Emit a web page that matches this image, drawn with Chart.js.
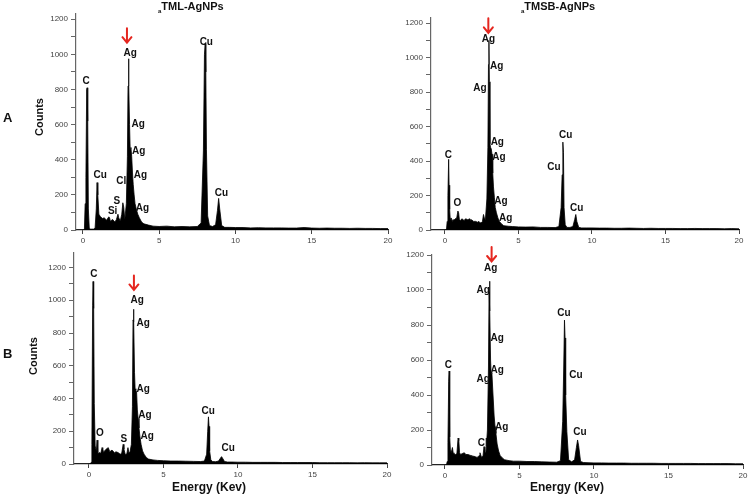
<!DOCTYPE html>
<html>
<head>
<meta charset="utf-8">
<script src="https://cdn.jsdelivr.net/npm/chart.js@4.4.1/dist/chart.umd.min.js"></script>
<style>
  body { margin: 0; background: #fff; font-family: Arial, "Liberation Sans", sans-serif; }
  #wrap { position: relative; width: 752px; height: 494px; overflow: hidden; }
  canvas { position: absolute; }
  .txt { position: absolute; font-weight: bold; color: #111; white-space: nowrap; }
</style>
</head>
<body>
<div id="wrap">
  <canvas id="c1" width="400" height="245" style="left:0;top:0"></canvas>
  <canvas id="c2" width="372" height="245" style="left:380px;top:0"></canvas>
  <canvas id="c3" width="400" height="249" style="left:0;top:245px"></canvas>
  <canvas id="c4" width="372" height="249" style="left:380px;top:245px"></canvas>

  <div class="txt" style="left:158px;top:0px;font-size:11px"><sub style="font-size:6px">a</sub>TML-AgNPs</div>
  <div class="txt" style="left:521px;top:0px;font-size:11px"><sub style="font-size:6px">a</sub>TMSB-AgNPs</div>
  <div class="txt" style="left:3px;top:110px;font-size:13px">A</div>
  <div class="txt" style="left:3px;top:346px;font-size:13px">B</div>
  <div class="txt" style="left:20px;top:111px;font-size:11px;transform:rotate(-90deg)">Counts</div>
  <div class="txt" style="left:14px;top:350px;font-size:11px;transform:rotate(-90deg)">Counts</div>
  <div class="txt" style="left:172px;top:480px;font-size:12px">Energy (Kev)</div>
  <div class="txt" style="left:530px;top:480px;font-size:12px">Energy (Kev)</div>
</div>
<script>
// energy axis (keV), shared by all four spectra
const energy = [
  0, 0.1, 0.15, 0.2, 0.25, 0.28, 0.32, 0.36, 0.42, 0.5,
  0.55, 0.6, 0.7, 0.8, 0.88, 0.93, 0.98, 1.05, 1.15, 1.3,
  1.4, 1.55, 1.7, 1.75, 1.8, 1.95, 2.1, 2.2, 2.3, 2.35,
  2.45, 2.55, 2.62, 2.68, 2.75, 2.85, 2.92, 2.96, 2.99, 3.02,
  3.06, 3.1, 3.15, 3.2, 3.25, 3.3, 3.36, 3.42, 3.5, 3.6,
  3.7, 3.85, 4.0, 4.3, 4.6, 5.0, 5.5, 6.0, 6.5, 7.0,
  7.5, 7.75, 7.9, 7.97, 8.02, 8.06, 8.1, 8.18, 8.3, 8.5,
  8.7, 8.82, 8.9, 8.97, 9.1, 9.3, 9.6, 10, 10.5, 11,
  11.5, 12, 12.5, 13, 13.5, 14, 14.5, 15, 15.5, 16,
  16.5, 17, 17.5, 18, 18.5, 19, 19.5, 20
]

const countsTmlA = [
  0, 0, 150, 300, 800, 810, 620, 120, 10, 5,
  5, 5, 5, 10, 120, 270, 200, 90, 75, 65,
  70, 55, 75, 70, 50, 60, 45, 60, 90, 70,
  50, 90, 155, 130, 60, 150, 420, 820, 975, 830,
  600, 460, 470, 420, 330, 260, 200, 150, 120, 90,
  70, 45, 35, 28, 22, 20, 22, 18, 20, 18,
  20, 40, 450, 1000, 1060, 900, 460, 80, 25, 20,
  30, 110, 180, 120, 25, 15, 15, 14, 14, 12,
  13, 12, 12, 12, 11, 11, 14, 11, 10, 11,
  10, 10, 9, 10, 9, 9, 8, 8
]
const countsTmsbA = [
  0, 0, 50, 200, 410, 260, 120, 60, 70, 50,
  60, 55, 65, 70, 110, 100, 60, 55, 65, 55,
  65, 60, 65, 55, 60, 50, 50, 45, 50, 45,
  40, 50, 90, 70, 60, 180, 480, 960, 1100, 860,
  500, 480, 470, 440, 330, 250, 190, 130, 100, 70,
  50, 35, 25, 22, 20, 18, 17, 18, 15, 15,
  14, 20, 130, 320, 510, 450, 130, 30, 15, 15,
  20, 60, 90, 50, 15, 12, 12, 12, 11, 11,
  10, 10, 11, 10, 9, 10, 9, 9, 9, 8,
  8, 9, 8, 8, 8, 7, 8, 7
]
const countsTmlB = [
  0, 0, 10, 120, 970, 1115, 950, 370, 110, 80,
  146, 60, 70, 65, 100, 95, 70, 80, 90, 100,
  75, 85, 70, 60, 75, 70, 60, 65, 120, 90,
  55, 65, 100, 70, 70, 120, 350, 880, 945, 870,
  560, 460, 450, 440, 330, 280, 220, 170, 120, 80,
  60, 40, 30, 25, 22, 20, 18, 18, 17, 16,
  15, 18, 60, 200, 288, 230, 80, 25, 15, 14,
  18, 35, 45, 35, 15, 12, 12, 11, 11, 10,
  10, 10, 10, 9, 9, 9, 9, 9, 8, 8,
  8, 8, 8, 7, 8, 7, 7, 7
]
const countsTmsbB = [
  0, 0, 20, 130, 476, 537, 160, 90, 70, 100,
  70, 65, 60, 65, 154, 140, 70, 60, 65, 70,
  60, 60, 55, 55, 50, 50, 45, 45, 55, 70,
  45, 50, 105, 80, 70, 200, 560, 990, 1050, 880,
  600, 520, 525, 440, 360, 280, 220, 180, 120, 80,
  55, 40, 30, 25, 22, 22, 20, 20, 18, 17,
  16, 25, 250, 560, 828, 726, 400, 190, 30, 18,
  30, 100, 143, 110, 20, 14, 13, 12, 12, 11,
  11, 11, 10, 10, 10, 10, 9, 9, 9, 9,
  9, 8, 8, 8, 8, 8, 7, 7
]

const xTicks = [0, 5, 10, 15, 20]
const yTicks = [0, 200, 400, 600, 800, 1000, 1200]

// peak labels: [element, keV, counts]
const peaksTmlA = [
  ['C', 0.22, 848], ['Ag', 3.1, 1008], ['Cu', 8.09, 1071], ['Ag', 3.62, 601],
  ['Ag', 3.66, 451], ['Cl', 2.52, 275], ['Ag', 3.77, 313], ['Cu', 1.14, 313],
  ['S', 2.22, 165], ['Si', 1.95, 104], ['Ag', 3.91, 123], ['Cu', 9.08, 209]
]
const peaksTmsbA = [
  ['Ag', 2.95, 1105], ['Ag', 3.52, 949], ['Ag', 2.38, 825], ['Ag', 3.56, 508],
  ['Ag', 3.67, 421], ['C', 0.23, 435], ['Cu', 8.21, 551], ['Cu', 7.41, 363],
  ['O', 0.84, 155], ['Ag', 3.81, 165], ['Ag', 4.13, 68], ['Cu', 8.96, 126]
]
const peaksTmlB = [
  ['C', 0.34, 1157], ['Ag', 3.24, 999], ['Ag', 3.64, 861], ['Ag', 3.64, 455],
  ['Ag', 3.76, 298], ['Ag', 3.91, 171], ['O', 0.74, 187], ['S', 2.35, 150],
  ['Cu', 8.0, 325], ['Cu', 9.35, 96]
]
const peaksTmsbB = [
  ['Ag', 3.07, 1124], ['Ag', 2.57, 1000], ['Ag', 3.51, 727], ['Ag', 3.51, 539],
  ['Ag', 2.57, 490], ['C', 0.22, 571], ['Cu', 7.99, 867], ['Cu', 8.79, 514],
  ['Cl', 2.53, 127], ['Ag', 3.8, 215], ['Cu', 9.06, 185]
]

const peakText = {
  id: 'peakText',
  afterDatasetsDraw(chart, args, opts) {
    const ctx = chart.ctx, x = chart.scales.x, y = chart.scales.y
    ctx.save()
    ctx.font = 'bold 10px Arial'
    ctx.fillStyle = '#111'
    ctx.textAlign = 'center'
    ctx.textBaseline = 'middle'
    opts.items.forEach(p => ctx.fillText(p[0], x.getPixelForValue(p[1]), y.getPixelForValue(p[2])))
    // red arrow pointing at the main Ag peak
    const ax = x.getPixelForValue(opts.arrow[0]), ay = y.getPixelForValue(opts.arrow[1])
    ctx.strokeStyle = '#e5261f'
    ctx.lineWidth = 2
    ctx.lineCap = 'round'
    ctx.beginPath()
    ctx.moveTo(ax, ay - 15)
    ctx.lineTo(ax, ay - 1)
    ctx.moveTo(ax - 4.5, ay - 6)
    ctx.lineTo(ax, ay - 0.5)
    ctx.lineTo(ax + 4.5, ay - 6)
    ctx.stroke()
    ctx.restore()
  }
}

function makeChart(id, counts, peaks, arrow, xMin, yMax, pad) {
  new Chart(document.getElementById(id), {
    type: 'line',
    data: {
      datasets: [{
        data: energy.map((e, i) => ({ x: e, y: counts[i] })),
        borderColor: '#000',
        backgroundColor: '#000',
        borderWidth: 0.8,
        fill: 'origin',
        pointRadius: 0,
        tension: 0
      }]
    },
    options: {
      responsive: false,
      animation: false,
      layout: { padding: pad },
      plugins: {
        legend: { display: false },
        tooltip: { enabled: false },
        peakText: { items: peaks, arrow: arrow }
      },
      scales: {
        x: {
          type: 'linear',
          min: xMin,
          max: 20,
          afterBuildTicks: s => { s.ticks = xTicks.map(v => ({ value: v })) },
          afterFit: s => { s.height = 15 },
          border: { color: '#222', width: 1.2 },
          grid: { drawOnChartArea: false, tickLength: 4, tickColor: '#444' },
          ticks: { font: { size: 8, family: 'Arial' }, color: '#444', padding: 2, maxRotation: 0 }
        },
        y: {
          min: 0,
          max: yMax,
          afterBuildTicks: s => {
            const t = []
            for (let v = 0; v <= 1200; v += 100) t.push({ value: v })
            s.ticks = t
          },
          afterFit: s => { s.width = 40 },
          border: { color: '#666', width: 1.2 },
          grid: { drawOnChartArea: false, tickLength: 5, tickColor: '#666' },
          ticks: {
            font: { size: 8, family: 'Arial' },
            color: '#444',
            padding: 3,
            autoSkip: false,
            callback: v => yTicks.includes(v) ? String(v) : ''
          }
        }
      }
    },
    plugins: [peakText]
  })
}

makeChart('c1', countsTmlA, peaksTmlA, [2.89, 1064], -0.45, 1230, { left: 36, top: 14, right: 12, bottom: 0 })
makeChart('c2', countsTmsbA, peaksTmsbA, [2.95, 1141], -0.95, 1230, { left: 11, top: 18, right: 13, bottom: 0 })
makeChart('c3', countsTmlB, peaksTmlB, [3.02, 1060], -1.0, 1290, { left: 34, top: 7, right: 13, bottom: 15 })
makeChart('c4', countsTmsbB, peaksTmsbB, [3.13, 1160], -0.87, 1200, { left: 12, top: 10, right: 9, bottom: 14 })
</script>
</body>
</html>
